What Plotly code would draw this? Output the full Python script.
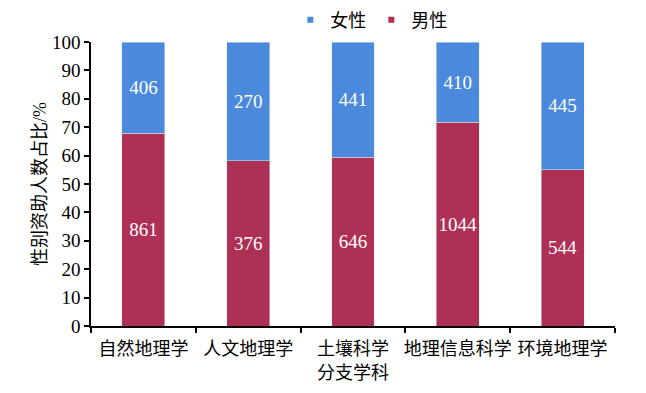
import plotly.graph_objects as go

categories = ["自然地理学", "人文地理学", "土壤科学", "地理信息科学", "环境地理学"]
male_counts = [861, 376, 646, 1044, 544]
female_counts = [406, 270, 441, 410, 445]
y_ticks = list(range(0, 101, 10))

male_pct = [m / (m + f) * 100 for m, f in zip(male_counts, female_counts)]
female_pct = [f / (m + f) * 100 for m, f in zip(male_counts, female_counts)]

male_color = "#ae3155"
female_color = "#4a89dc"
serif = "Liberation Serif, Times New Roman, Noto Sans CJK SC"

fig = go.Figure()
fig.add_trace(go.Bar(
    x=categories, y=male_pct, name="男性", marker_color=male_color,
    text=[str(v) for v in male_counts], textposition="inside", insidetextanchor="middle",
    textangle=0, constraintext="none",
    textfont=dict(color="white", size=19, family=serif), width=0.41, showlegend=False,
))
fig.add_trace(go.Bar(
    x=categories, y=female_pct, name="女性", marker_color=female_color,
    text=[str(v) for v in female_counts], textposition="inside", insidetextanchor="middle",
    textangle=0, constraintext="none",
    textfont=dict(color="white", size=19, family=serif), width=0.41, showlegend=False,
))
# legend entries
fig.add_trace(go.Scatter(x=[None], y=[None], mode="markers", name="女性",
                         marker=dict(symbol="square", size=6, color=female_color)))
fig.add_trace(go.Scatter(x=[None], y=[None], mode="markers", name="男性",
                         marker=dict(symbol="square", size=6, color=male_color)))

fig.update_layout(
    barmode="stack",
    width=646, height=393,
    margin=dict(l=83, r=39, t=34, b=75, autoexpand=False),
    plot_bgcolor="white", paper_bgcolor="white",
    font=dict(family=serif, size=18, color="black"),
    legend=dict(orientation="h", x=0.535, xanchor="center", y=1.077, yanchor="middle",
                traceorder="normal",
                font=dict(size=18, family=serif), itemwidth=30, bgcolor="rgba(0,0,0,0)"),
    showlegend=True,
)
fig.update_xaxes(
    type="category", categoryorder="array", categoryarray=categories,
    tickson="boundaries", ticks="outside", ticklen=5, tickcolor="black", tickwidth=1.5,
    showline=True, linecolor="black", linewidth=1.5, showgrid=False, tickangle=0,
    tickfont=dict(size=18, family=serif), ticklabelstandoff=6,
    title=dict(text="分支学科", font=dict(size=18, family=serif), standoff=8),
)
fig.update_yaxes(
    range=[0, 100], tickvals=y_ticks, ticks="outside", ticklen=5, tickcolor="black", tickwidth=1.5,
    showline=True, linecolor="black", linewidth=1.5, showgrid=False, zeroline=False,
    tickfont=dict(size=19, family=serif),
    title=dict(text="性别资助人数占比/%", font=dict(size=18, family=serif), standoff=1),
)

fig.write_html("out.html")
